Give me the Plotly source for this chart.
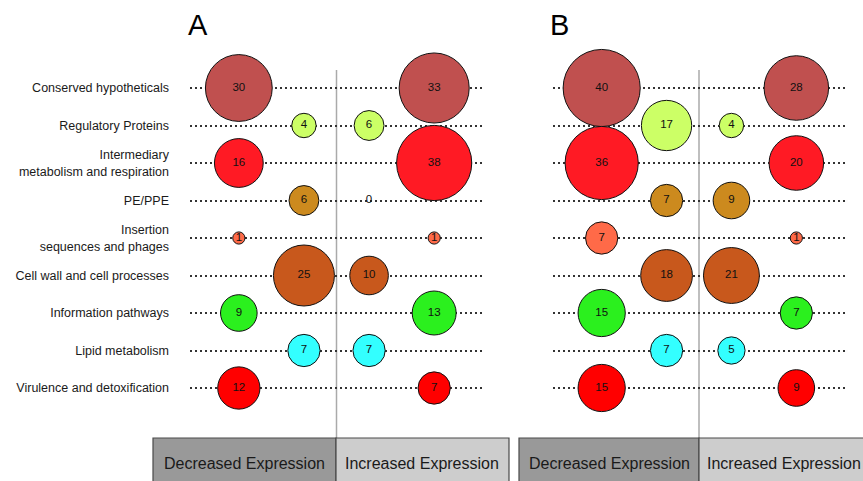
import plotly.graph_objects as go

# ---- data ----
categories = [
    "Conserved hypotheticals",
    "Regulatory Proteins",
    "Intermediary<br>metabolism and respiration",
    "PE/PPE",
    "Insertion<br>sequences and phages",
    "Cell wall and cell processes",
    "Information pathways",
    "Lipid metabolism",
    "Virulence and detoxification",
]
a_decreased = [30, 4, 16, 6, 1, 25, 9, 7, 12]
a_increased = [33, 6, 38, 0, 1, 10, 13, 7, 7]
b_decreased = [40, 17, 36, 7, 7, 18, 15, 7, 15]
b_increased = [28, 4, 20, 9, 1, 21, 7, 5, 9]
category_colors = [
    "#C0504F", "#CCFF66", "#FF1A24", "#CC8A1E", "#FF6A48",
    "#C8581C", "#2BF01E", "#33FFFF", "#FF0000",
]
panel_titles = ["A", "B"]
box_labels = ["Decreased Expression", "Increased Expression"]

W, H = 863, 481
FONT = "Liberation Sans, Arial, Helvetica, sans-serif"


def px_x(p):
    return p / W


def px_y(p):
    return (H - p) / H


rows = list(range(len(categories)))
# slots: 0 = decreased outer, 1 = decreased inner, 2 = increased inner, 3 = increased outer
dec_slot = [0 if r % 2 == 0 else 1 for r in rows]
inc_slot = [3 if r % 2 == 0 else 2 for r in rows]

SIZEREF = 2.0 / 148.8

fig = go.Figure()
panels = [(a_decreased, a_increased, "x", "y"), (b_decreased, b_increased, "x2", "y2")]
for dec, inc, xa, ya in panels:
    for vals, slots in ((dec, dec_slot), (inc, inc_slot)):
        fig.add_trace(go.Scatter(
            x=slots, y=rows, xaxis=xa, yaxis=ya,
            mode="markers+text",
            text=[str(v) for v in vals],
            textposition="middle center",
            textfont=dict(family=FONT, size=11.5, color="#111111"),
            marker=dict(size=vals, sizemode="area", sizeref=SIZEREF, sizemin=0,
                        color=category_colors, opacity=1,
                        line=dict(color="#111111", width=1)),
            cliponaxis=False, showlegend=False, hoverinfo="skip",
        ))

y_top_px, y_bot_px = 70, 440
row_px = 37.5
y_range = [8 + (y_bot_px - 388) / row_px, -(88 - y_top_px) / row_px]
ydom = [px_y(y_bot_px), px_y(y_top_px)]

xdomA = [px_x(190), px_x(483)]
xdomB = [px_x(553), px_x(845)]

xcommon = dict(range=[-0.75, 3.75], showgrid=False, zeroline=False,
               showticklabels=False, ticks="", showline=False, fixedrange=True)
ycommon = dict(range=y_range, domain=ydom, showgrid=True, gridcolor="#333333",
               gridwidth=1.6, griddash="2px,3px", zeroline=False, showline=False,
               tickvals=rows, fixedrange=True)

fig.update_layout(
    width=W, height=H,
    margin=dict(l=0, r=0, t=0, b=0),
    paper_bgcolor="white", plot_bgcolor="white",
    xaxis=dict(domain=xdomA, anchor="y", **xcommon),
    xaxis2=dict(domain=xdomB, anchor="y2", **xcommon),
    yaxis=dict(anchor="x", ticktext=categories, ticks="",
               ticklabelstandoff=20,
               tickfont=dict(family=FONT, size=12.5, color="#1a1a1a"), **ycommon),
    yaxis2=dict(anchor="x2", showticklabels=False, ticks="", **ycommon),
)

# vertical dividers between decreased / increased
for xr in ("x", "x2"):
    fig.add_shape(type="line", xref=xr, yref="paper", x0=1.5, x1=1.5,
                  y0=ydom[0], y1=ydom[1], line=dict(color="#AAAAAA", width=1.5),
                  layer="below")

# panel titles
for t, xp in zip(panel_titles, (198, 559)):
    fig.add_annotation(text=t, xref="paper", yref="paper", x=px_x(xp), y=px_y(25),
                       showarrow=False, xanchor="center", yanchor="middle",
                       font=dict(family=FONT, size=29, color="#000000"))

# bottom boxes
box_edges = [(153, 336, 509), (519, 699, 880)]
text_centers = [(245, 422), (609, 784)]
fills = ["#999999", "#CDCDCD"]
for (left, mid, right), centers in zip(box_edges, text_centers):
    for (x0, x1), fill, lab, cx in zip(((left, mid), (mid, right)), fills, box_labels, centers):
        fig.add_shape(type="rect", xref="paper", yref="paper",
                      x0=px_x(x0), x1=px_x(x1), y0=px_y(500), y1=px_y(438),
                      fillcolor=fill, line=dict(color="#4a4a4a", width=1.2))
        fig.add_annotation(text=lab, xref="paper", yref="paper",
                           x=px_x(cx), y=px_y(463),
                           showarrow=False, xanchor="center", yanchor="middle",
                           font=dict(family=FONT, size=16, color="#1a1a1a"))

fig.write_html(
    "out.html",
    config={"displayModeBar": False},
    post_script="document.body.style.margin='0';document.body.style.overflow='hidden';",
)
